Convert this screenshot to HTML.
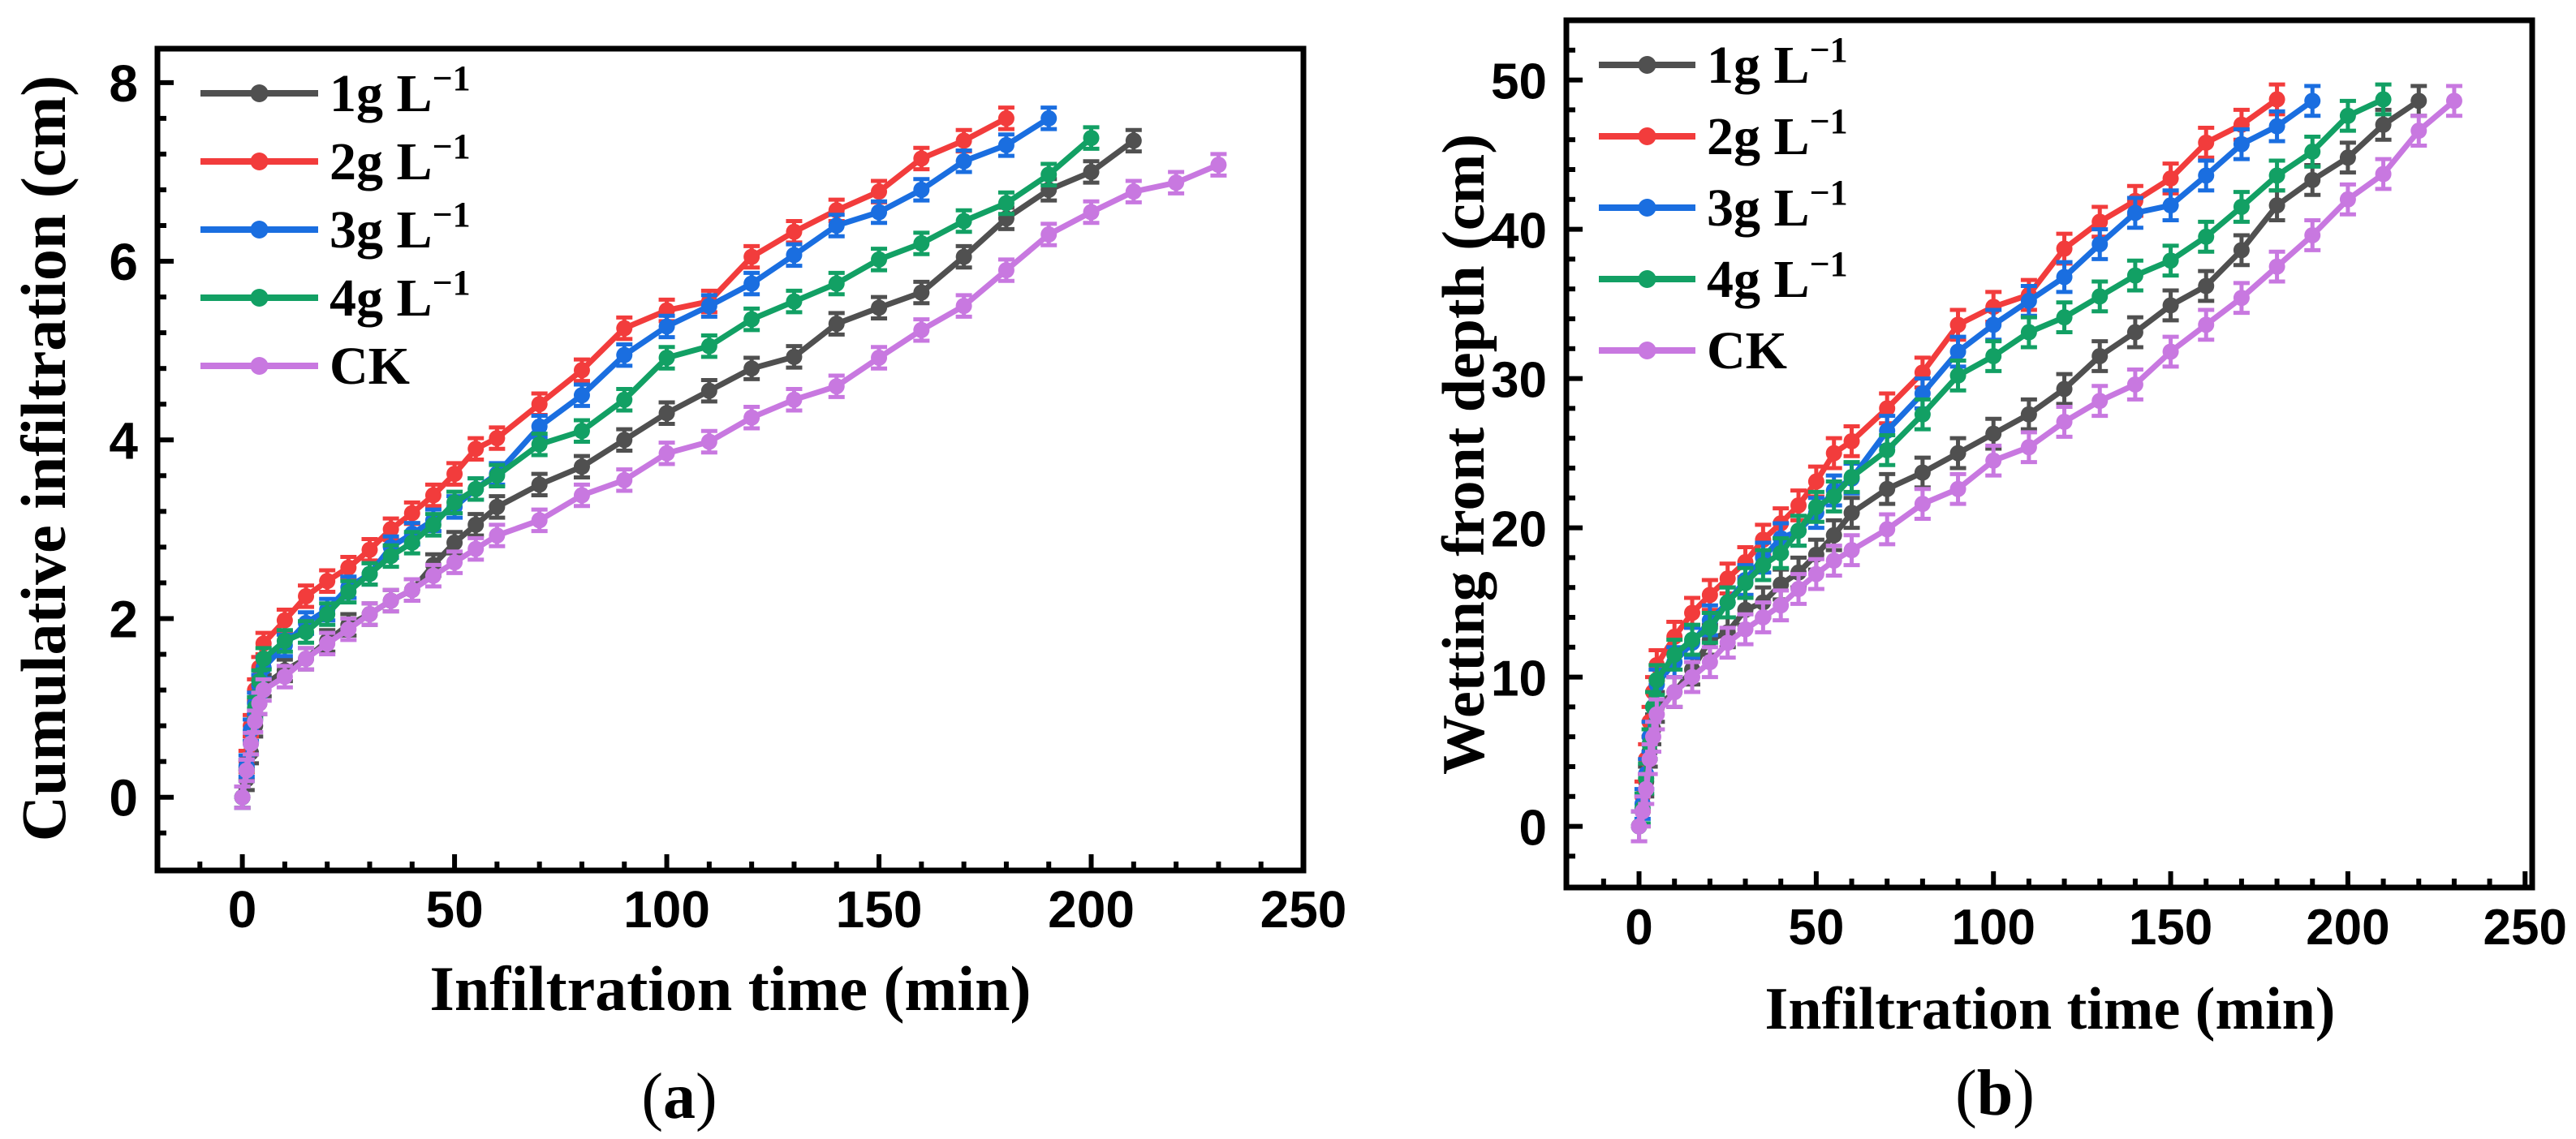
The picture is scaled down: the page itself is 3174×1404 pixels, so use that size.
<!DOCTYPE html>
<html><head><meta charset="utf-8"><style>
html,body{margin:0;padding:0;background:#fff;}
svg{display:block;}
</style></head><body>
<svg id="fig" width="3174" height="1404" viewBox="0 0 3174 1404" xmlns="http://www.w3.org/2000/svg">
<g id="pa"></g>
<g id="pb"></g>
</svg>
<script>
const seriesNames = ["1g L", "2g L", "3g L", "4g L", "CK"];
const seriesColors = ["#505050", "#f23c3c", "#1a6ee0", "#12a064", "#c878e0"];
const timesA_gray = [0,1,2,3,4,5,10,15,20,25,30,35,40,45,50,55,60,70,80,90,100,110,120,130,140,150,160,170,180,190,200,210];
const valsA_gray = [0,0.2,0.5,0.8,1.05,1.25,1.42,1.55,1.75,1.93,2.05,2.2,2.32,2.6,2.85,3.05,3.25,3.5,3.7,4.0,4.3,4.55,4.8,4.93,5.3,5.48,5.65,6.05,6.48,6.8,7.0,7.35];
const timesA_red = [0,1,2,3,4,5,10,15,20,25,30,35,40,45,50,55,60,70,80,90,100,110,120,130,140,150,160,170,180];
const valsA_red = [0,0.4,0.8,1.2,1.45,1.72,1.98,2.25,2.42,2.57,2.77,3.0,3.18,3.38,3.62,3.9,4.02,4.4,4.78,5.25,5.45,5.55,6.05,6.33,6.57,6.78,7.15,7.35,7.6];
const timesA_blue = [0,1,2,3,4,5,10,15,20,25,30,35,40,45,50,55,60,70,80,90,100,110,120,130,140,150,160,170,180,190];
const valsA_blue = [0,0.35,0.75,1.05,1.25,1.45,1.7,1.95,2.1,2.35,2.5,2.8,2.95,3.1,3.25,3.45,3.62,4.15,4.5,4.95,5.27,5.5,5.75,6.07,6.4,6.55,6.8,7.12,7.3,7.6];
const timesA_green = [0,1,2,3,4,5,10,15,20,25,30,35,40,45,50,55,60,70,80,90,100,110,120,130,140,150,160,170,180,190,200];
const valsA_green = [0,0.3,0.6,1.0,1.3,1.55,1.75,1.85,2.05,2.3,2.5,2.7,2.85,3.05,3.3,3.45,3.6,3.95,4.1,4.45,4.92,5.05,5.35,5.55,5.75,6.02,6.2,6.45,6.65,6.97,7.38];
const timesA_ck = [0,1,2,3,4,5,10,15,20,25,30,35,40,45,50,55,60,70,80,90,100,110,120,130,140,150,160,170,180,190,200,210,220,230];
const valsA_ck = [0,0.3,0.6,0.85,1.05,1.2,1.35,1.55,1.72,1.88,2.05,2.2,2.32,2.48,2.63,2.78,2.93,3.1,3.38,3.55,3.85,3.98,4.25,4.45,4.6,4.92,5.23,5.5,5.9,6.3,6.55,6.78,6.88,7.08];
const timesB_gray = [0,1,2,3,4,5,10,15,20,25,30,35,40,45,50,55,60,70,80,90,100,110,120,130,140,150,160,170,180,190,200,210,220];
const valsB_gray = [0,1,3,5,6.5,8,9,10.5,12.5,13,14.5,15,16.2,17,18.2,19.5,21,22.6,23.7,25,26.3,27.6,29.3,31.5,33.1,34.9,36.2,38.6,41.6,43.3,44.8,47,48.6];
const timesB_red = [0,1,2,3,4,5,10,15,20,25,30,35,40,45,50,55,60,70,80,90,100,110,120,130,140,150,160,170,180];
const valsB_red = [0,2,4.5,7,9,10.8,12.7,14.3,15.5,16.6,17.7,19.2,20.3,21.5,23.1,25,25.8,28,30.4,33.6,34.8,35.6,38.7,40.5,41.9,43.4,45.8,47,48.7];
const timesB_blue = [0,1,2,3,4,5,10,15,20,25,30,35,40,45,50,55,60,70,80,90,100,110,120,130,140,150,160,170,180,190];
const valsB_blue = [0,1.5,3.5,6,8,9.5,11,12.3,13.8,15,16.5,18,19.3,19.8,21,22.5,23.3,26.5,29,31.8,33.6,35.2,36.8,39,41.1,41.6,43.6,45.7,46.9,48.6];
const timesB_green = [0,1,2,3,4,5,10,15,20,25,30,35,40,45,50,55,60,70,80,90,100,110,120,130,140,150,160,170,180,190,200,210];
const valsB_green = [0,1.2,3.2,5.5,8,9.8,11.5,12.5,13.3,15,16.3,17.5,18.3,19.8,21.4,22.1,23.4,25.2,27.6,30.2,31.5,33.1,34.1,35.5,36.9,37.9,39.5,41.5,43.6,45.2,47.6,48.7];
const timesB_ck = [0,1,2,3,4,5,10,15,20,25,30,35,40,45,50,55,60,70,80,90,100,110,120,130,140,150,160,170,180,190,200,210,220,230];
const valsB_ck = [0,1,2.5,4.5,6,7.5,9,10,11,12.3,13.2,14,14.8,15.9,16.9,17.8,18.5,19.9,21.6,22.6,24.5,25.4,27.1,28.5,29.6,31.8,33.6,35.4,37.5,39.6,42,43.7,46.6,48.6];
const errA = [0.12,0.12,0.12,0.12,0.12];
const errB = [1.0,1.0,1.0,1.0,1.0];
const xTicks = [0,50,100,150,200,250];
const yTicksA = [0,2,4,6,8];
const yTicksB = [0,10,20,30,40,50];

const NS = "http://www.w3.org/2000/svg";
function mk(parent, tag, attrs){const e=document.createElementNS(NS,tag);for(const k in attrs)e.setAttribute(k,attrs[k]);parent.appendChild(e);return e;}

function drawPanel(g, cfg){
  const sx=v=>cfg.x0+(v-cfg.xmin)/(cfg.xmax-cfg.xmin)*(cfg.x1-cfg.x0);
  const sy=v=>cfg.yb-(v-cfg.ymin)/(cfg.ymax-cfg.ymin)*(cfg.yb-cfg.yt);
  const sg=mk(g,"g",{});
  
  
  cfg.series.forEach((s,i)=>{
    const col=seriesColors[i];
    const pts=s.t.map((t,j)=>sx(t).toFixed(1)+","+sy(s.v[j]).toFixed(1)).join(" ");
    const pl=mk(sg,"polyline",{points:pts,fill:"none",stroke:col,"stroke-width":7,"stroke-linejoin":"round"});
    
    
    s.t.forEach((t,j)=>{
      const cx=sx(t), cy=sy(s.v[j]), e=cfg.err[i];
      const eb=mk(sg,"path",{d:`M${cx} ${sy(s.v[j]+e)}V${sy(s.v[j]-e)}M${cx-10} ${sy(s.v[j]+e)}H${cx+10}M${cx-10} ${sy(s.v[j]-e)}H${cx+10}`,stroke:col,"stroke-width":5,fill:"none"});
      
      
      const c=mk(sg,"circle",{cx:cx,cy:cy,r:10,fill:col});
      
      
    });
  });
  const fr=mk(g,"rect",{x:cfg.x0,y:cfg.yt,width:cfg.x1-cfg.x0,height:cfg.yb-cfg.yt,fill:"none",stroke:"#000","stroke-width":7});
  
  
  for(let v=-10;v<=cfg.xmax;v+=10){
    const major=v%50===0;
    mk(g,"line",{x1:sx(v),x2:sx(v),y1:cfg.yb,y2:cfg.yb-(major?20:11),stroke:"#000","stroke-width":6});
  }
  xTicks.forEach(v=>{
    const t=mk(g,"text",{x:sx(v),y:cfg.yb+70,"text-anchor":"middle","font-family":"Liberation Sans, sans-serif","font-weight":"bold","font-size":cfg.tickFs});
    t.textContent=v;
    
    
  });
  for(let v=cfg.ymin0;v<=cfg.ymax;v+=cfg.minor){
    const major=Math.abs(v/cfg.major-Math.round(v/cfg.major))<1e-6;
    mk(g,"line",{x1:cfg.x0,x2:cfg.x0+(major?20:11),y1:sy(v),y2:sy(v),stroke:"#000","stroke-width":6});
  }
  cfg.yTicks.forEach(v=>{
    const t=mk(g,"text",{x:cfg.x0-24,y:sy(v)+23,"text-anchor":"end","font-family":"Liberation Sans, sans-serif","font-weight":"bold","font-size":cfg.tickFs});
    t.textContent=v;
    
    
  });
  cfg.series.forEach((s,i)=>{
    const ly=cfg.legY+i*cfg.legDy;
    const lg=mk(g,"g",{});
    
    
    mk(lg,"line",{x1:cfg.legX,x2:cfg.legX+cfg.legW,y1:ly,y2:ly,stroke:seriesColors[i],"stroke-width":8});
    mk(lg,"circle",{cx:cfg.legX+cfg.legW/2,cy:ly,r:11,fill:seriesColors[i]});
    const t=mk(lg,"text",{x:cfg.legX+cfg.legW+14,y:ly+22,"font-family":"Liberation Serif, serif","font-weight":"bold","font-size":66});
    t.textContent=seriesNames[i];
    if(i<4){const sp=mk(t,"tspan",{dy:-26,"font-size":44});sp.textContent="−1";}
  });
  const xt=mk(g,"text",{x:cfg.xtX,y:cfg.xtY,"text-anchor":"middle","font-family":"Liberation Serif, serif","font-weight":"bold","font-size":cfg.titleFs});
  xt.textContent="Infiltration time (min)";
  
  
  const yt=mk(g,"text",{x:0,y:0,transform:`translate(${cfg.ytX},${cfg.ytY}) rotate(-90)`,"text-anchor":"middle","font-family":"Liberation Serif, serif","font-weight":"bold","font-size":cfg.titleFs});
  yt.textContent=cfg.yTitle;
  
  
  const pl=mk(g,"text",{x:cfg.plX,y:cfg.plY,"text-anchor":"middle","font-family":"Liberation Serif, serif","font-size":80});
  pl.textContent="(";
  const b=mk(pl,"tspan",{"font-weight":"bold"});b.textContent=cfg.tag;
  const c=mk(pl,"tspan",{});c.textContent=")";
  
  
}

drawPanel(document.getElementById("pa"),{
  x0:194,x1:1606,xmin:-20,xmax:250,yt:60,yb:1073,ymin:-0.82,ymax:8.38,ymin0:-0.4,minor:0.4,major:2,
  yTicks:yTicksA,err:errA,tickFs:64,titleFs:78,
  series:[{key:"1g",t:timesA_gray,v:valsA_gray},{key:"2g",t:timesA_red,v:valsA_red},{key:"3g",t:timesA_blue,v:valsA_blue},{key:"4g",t:timesA_green,v:valsA_green},{key:"ck",t:timesA_ck,v:valsA_ck}],
  legX:247,legW:145,legY:115,legDy:84,
  xtX:900,xtY:1245,ytX:80,ytY:565,yTitle:"Cumulative infiltration (cm)",plX:837,plY:1378,tag:"a"
});
drawPanel(document.getElementById("pb"),{
  x0:1930,x1:3120,xmin:-20.5,xmax:252,yt:25,yb:1094,ymin:-4.1,ymax:54,ymin0:-2,minor:2,major:10,
  yTicks:yTicksB,err:errB,tickFs:62,titleFs:74,
  series:[{key:"1g",t:timesB_gray,v:valsB_gray},{key:"2g",t:timesB_red,v:valsB_red},{key:"3g",t:timesB_blue,v:valsB_blue},{key:"4g",t:timesB_green,v:valsB_green},{key:"ck",t:timesB_ck,v:valsB_ck}],
  legX:1970,legW:119,legY:80,legDy:88,
  xtX:2526,xtY:1268,ytX:1828,ytY:560,yTitle:"Wetting front depth (cm)",plX:2458,plY:1374,tag:"b"
});
</script>
</body></html>
